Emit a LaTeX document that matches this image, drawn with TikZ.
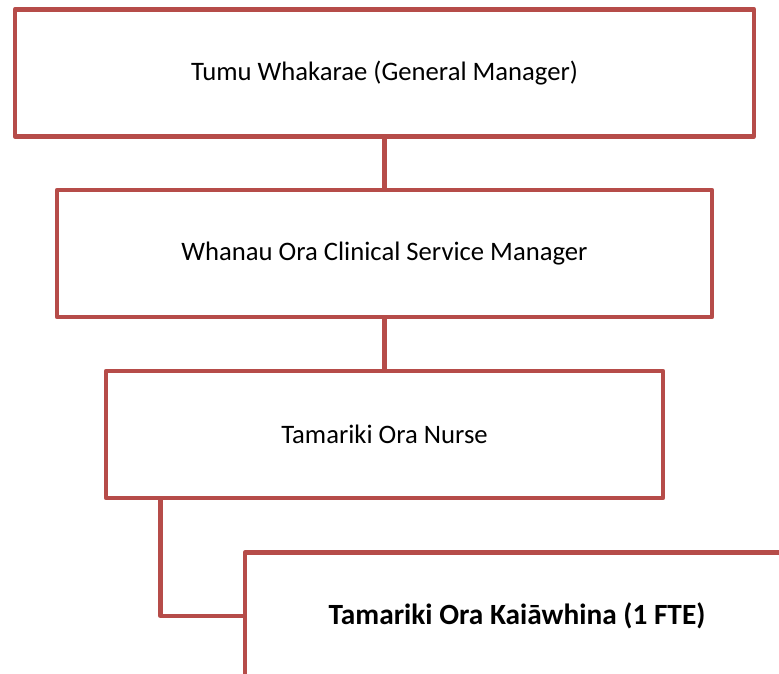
\documentclass[tikz,border=0pt]{standalone}
\usepackage{fontspec}
\setmainfont{Carlito}
\usetikzlibrary{positioning}
\definecolor{boxred}{RGB}{182,76,73}
\tikzset{
	block/.style={rectangle, draw=boxred, line width=3.4pt, fill=white,
		text centered, minimum height=95.25pt, inner sep=0pt,
		font=\fontsize{20}{24}\selectfont},
	link/.style={draw=boxred, line width=3.4pt}
}
\begin{document}
\begin{tikzpicture}[x=0.75pt, y=-0.75pt, line join=round]
	% Page frame
	\useasboundingbox (0,0) rectangle (779,674);
	\clip (0,0) rectangle (779,674);
	% Place nodes
	\node [block, minimum width=554.25pt] (gm) at (384.5,72.75) {Tumu Whakarae (General Manager)};
	\node [block, minimum width=491.25pt] (csm) at (384.5,253.5) {Whanau Ora Clinical Service Manager};
	\node [block, minimum width=417.75pt] (nurse) at (384.5,434.5) {Tamariki Ora Nurse};
	\node [block, minimum width=408pt, font=\fontsize{22}{26}\selectfont\bfseries] (kaiawhina) at (517,616) {Tamariki Ora Kaiāwhina (1 FTE)};
	% Connect nodes
	\draw [link] (nurse.south west) ++(57,0) |- (kaiawhina.west);
	\draw [link] (gm.south) -- (csm.north);
	\draw [link] (csm.south) -- (nurse.north);
\end{tikzpicture}
\end{document}
